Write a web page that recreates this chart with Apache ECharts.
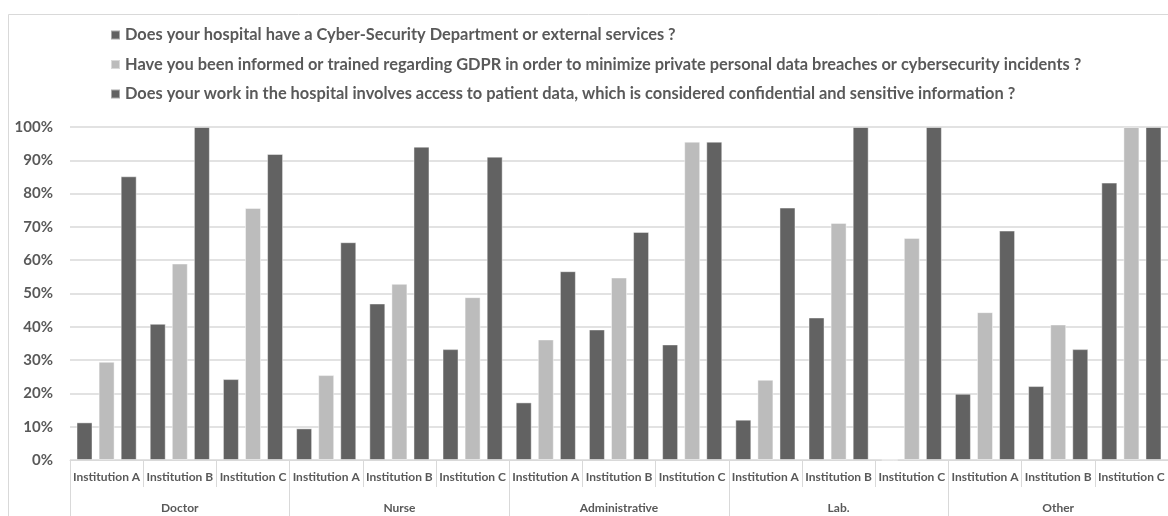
<!DOCTYPE html>
<html>
<head>
<meta charset="utf-8">
<script src="https://cdn.jsdelivr.net/npm/echarts@6/dist/echarts.min.js"></script>
<style>
  html, body { margin: 0; padding: 0; background: #ffffff; }
  #chart { width: 1168px; height: 516px; }
</style>
</head>
<body>
<div id="chart"></div>
<script>
// Survey answers by staff group and institution (share of respondents answering "yes")
const groups = ['Doctor', 'Nurse', 'Administrative', 'Lab.', 'Other'];
const institutions = ['Institution A', 'Institution B', 'Institution C'];
const yTicks = [0, 0.1, 0.2, 0.3, 0.4, 0.5, 0.6, 0.7, 0.8, 0.9, 1.0];

const questionNames = [
  'Does your hospital have a Cyber-Security Department or external services ?',
  'Have you been informed or trained regarding GDPR in order to minimize private personal data breaches or cybersecurity incidents ?',
  'Does your work in the hospital involves access to patient data, which is considered confidential and sensitive information ?'
];

// Values ordered Doctor A,B,C, Nurse A,B,C, Administrative A,B,C, Lab. A,B,C, Other A,B,C
const cyberDept = [0.113, 0.409, 0.243, 0.095, 0.470, 0.333, 0.173, 0.392, 0.347, 0.121, 0.428, 0.000, 0.199, 0.222, 0.833];
const gdprTraining = [0.295, 0.590, 0.757, 0.255, 0.529, 0.489, 0.362, 0.548, 0.956, 0.241, 0.712, 0.667, 0.444, 0.407, 1.000];
const patientData = [0.852, 1.000, 0.919, 0.654, 0.941, 0.911, 0.567, 0.685, 0.956, 0.758, 1.000, 1.000, 0.689, 0.333, 1.000];

const seriesColors = ['#626262', '#bcbcbc', '#626262'];
const seriesData = [cyberDept, gdprTraining, patientData];

// Flat category list: one entry per (group, institution) pair
const categories = [];
groups.forEach(g => institutions.forEach(inst => categories.push(inst)));

const labelFont = 'Lato, "Open Sans", sans-serif';
const textColor = '#595959';
const lineColor = '#d9d9d9';

const chart = echarts.init(document.getElementById('chart'), null, { renderer: 'canvas' });

chart.setOption({
  backgroundColor: '#ffffff',
  animation: false,
  graphic: [{
    type: 'rect',
    left: 6, top: 12,
    shape: { x: 0.5, y: 0.5, width: 1200, height: 600 },
    style: { fill: 'none', stroke: lineColor, lineWidth: 1 },
    silent: true, z: -1
  }],
  legend: {
    orient: 'vertical',
    left: 110,
    top: 25,
    padding: 0,
    itemWidth: 9,
    itemHeight: 9,
    itemGap: 9.5,
    icon: 'rect',
    data: questionNames,
    textStyle: {
      fontFamily: labelFont,
      fontWeight: 'bold',
      fontSize: 16.4,
      lineHeight: 20,
      color: textColor
    }
  },
  grid: { left: 70, right: 0, top: 127, bottom: 56, containLabel: false },
  xAxis: [
    {
      type: 'category',
      data: categories,
      position: 'bottom',
      axisLine: { show: true, lineStyle: { color: lineColor, width: 1 } },
      axisTick: { show: true, interval: 0, length: 27, lineStyle: { color: lineColor } },
      axisLabel: {
        interval: 0,
        margin: 11,
        fontFamily: labelFont,
        fontWeight: 'bold',
        fontSize: 12,
        color: textColor
      },
      splitLine: { show: false }
    },
    {
      type: 'category',
      data: groups,
      position: 'bottom',
      axisLine: { show: false },
      axisTick: { show: true, interval: 0, length: 56, lineStyle: { color: lineColor } },
      axisLabel: {
        interval: 0,
        margin: 42,
        fontFamily: labelFont,
        fontWeight: 'bold',
        fontSize: 12,
        color: textColor
      },
      splitLine: { show: false }
    }
  ],
  yAxis: {
    type: 'value',
    min: yTicks[0],
    max: yTicks[yTicks.length - 1],
    interval: 0.1,
    axisLine: { show: false },
    axisTick: { show: false },
    splitLine: { show: true, lineStyle: { color: lineColor, width: 1.5 } },
    axisLabel: {
      margin: 17,
      fontFamily: labelFont,
      fontWeight: 'bold',
      fontSize: 15,
      color: textColor,
      formatter: v => Math.round(v * 100) + '%'
    }
  },
  series: seriesData.map((vals, i) => ({
    name: questionNames[i],
    type: 'bar',
    xAxisIndex: 0,
    data: vals,
    barWidth: 16,
    barGap: '38%',
    itemStyle: {
      color: seriesColors[i],
      borderColor: 'rgba(255,255,255,0.45)',
      borderWidth: 1
    }
  }))
});
</script>
</body>
</html>
